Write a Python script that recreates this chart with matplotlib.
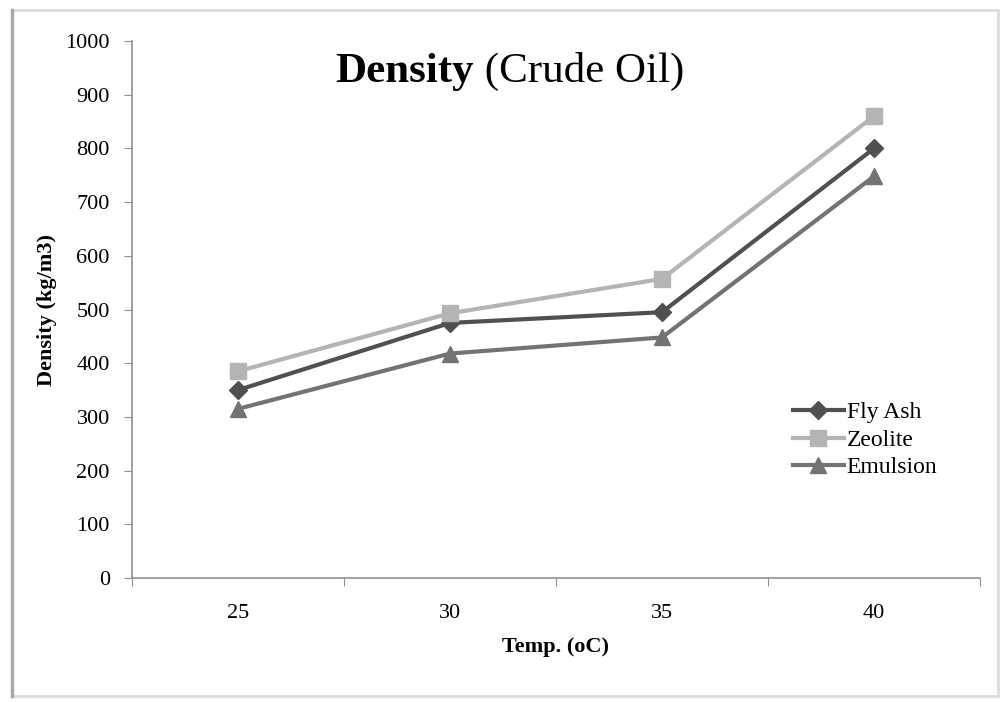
import numpy as np
import matplotlib.pyplot as plt
from matplotlib.patches import Rectangle
from matplotlib.lines import Line2D

temps = ['25', '30', '35', '40']
fly_ash = [350, 475, 495, 800]
zeolite = [385, 493, 557, 860]
emulsion = [315, 418, 448, 748]

plt.rcParams['font.family'] = ['Liberation Serif', 'DejaVu Serif']

fig = plt.figure(figsize=(10, 7.02), dpi=100)
ax = fig.add_axes([0.132, 0.1766, 0.848, 0.765])

x = np.arange(len(temps))
ax.plot(x, fly_ash, color='#505050', lw=3, marker='D', ms=9, label='Fly Ash')
ax.plot(x, zeolite, color='#b4b4b4', lw=3, marker='s', ms=11, label='Zeolite')
ax.plot(x, emulsion, color='#737373', lw=3, marker='^', ms=11, label='Emulsion')

ax.set_xlim(-0.5, 3.5)
ax.set_ylim(0, 1000)
ax.set_yticks(np.arange(0, 1001, 100))
ax.set_xticks(np.arange(-0.5, 3.6, 1))
ax.set_xticklabels([])
ax.set_xticks(x, minor=True)
ax.set_xticklabels(temps, minor=True)
ax.tick_params(axis='x', which='minor', length=0, pad=19, labelsize=16)
ax.tick_params(axis='x', which='major', length=6, color='#909090')
ax.tick_params(axis='y', length=6, color='#909090', labelsize=16, pad=10)

for s in ['top', 'right']:
    ax.spines[s].set_visible(False)
for s in ['left', 'bottom']:
    ax.spines[s].set_color('#909090')
    ax.spines[s].set_linewidth(1.2)

ax.set_xlabel('Temp. (oC)', fontsize=16, fontweight='bold', labelpad=10)
ax.set_ylabel('Density (kg/m3)', fontsize=16, fontweight='bold', labelpad=6)

t1 = fig.text(0.335, 1 - 82 / 702, 'Density', fontsize=31, fontweight='bold', va='baseline')
ax.annotate(' (Crude Oil)', xy=(1, 0), xycoords=t1, fontsize=31, va='bottom',
            annotation_clip=False)

ax.legend(loc='upper left', bbox_to_anchor=(0.765, 0.35), frameon=False,
          fontsize=17, handlelength=2.2, handletextpad=0.1, labelspacing=0.25,
          borderpad=0)

fig.patches.append(Rectangle((0.012, 0.008), 0.986, 0.978, transform=fig.transFigure,
                             fill=False, edgecolor='#dcdcdc', lw=2))
fig.lines.append(Line2D([0.012, 0.012], [0.008, 0.986], transform=fig.transFigure,
                        color='#a8a8a8', lw=2.5))

fig.savefig('out.png', dpi=100)
